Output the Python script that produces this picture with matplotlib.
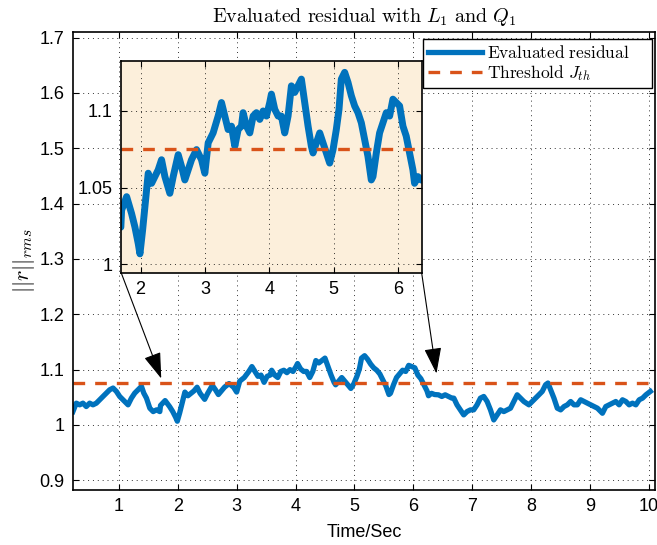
import matplotlib
matplotlib.use('Agg')
from matplotlib import pyplot as plt
from matplotlib.ticker import FixedLocator, FixedFormatter

plt.rcParams['font.family'] = ['Liberation Sans', 'DejaVu Sans']
plt.rcParams['mathtext.fontset'] = 'cm'

# residual (time in s, ||r||_rms)
t = [0.216, 0.273, 0.330, 0.386, 0.443, 0.500, 0.557, 0.614, 0.670, 0.727,
     0.784, 0.841, 0.898, 0.955, 1.011, 1.097, 1.153, 1.210, 1.267, 1.324,
     1.381, 1.420, 1.466, 1.523, 1.580, 1.636, 1.693,
     1.705, 1.783, 1.860, 1.912, 1.964, 1.990, 2.031, 2.093, 2.119, 2.171,
     2.223, 2.274, 2.326, 2.378, 2.455, 2.507, 2.585, 2.637, 2.688, 2.740,
     2.792, 2.870, 2.947, 2.999, 3.051, 3.128, 3.206, 3.258, 3.310, 3.361,
     3.413, 3.465, 3.517, 3.568, 3.594, 3.646, 3.698, 3.750, 3.801, 3.853,
     3.905, 3.957, 4.008, 4.034, 4.086, 4.138, 4.189, 4.241, 4.293, 4.345,
     4.396, 4.448, 4.500, 4.552, 4.604, 4.655, 4.681, 4.733, 4.785, 4.836,
     4.888, 4.940, 4.992, 5.043, 5.085, 5.121, 5.173, 5.225, 5.277, 5.328,
     5.380, 5.432, 5.484, 5.535, 5.587, 5.613, 5.665, 5.716, 5.768, 5.820,
     5.872, 5.923, 5.975, 6.027, 6.079, 6.130, 6.182, 6.234, 6.260, 6.311,
     6.363,
     6.429, 6.486, 6.543, 6.600, 6.657, 6.690, 6.744, 6.800, 6.858, 6.915,
     6.972, 7.028, 7.085, 7.142, 7.199, 7.256, 7.313, 7.369, 7.426, 7.483,
     7.540, 7.597, 7.653, 7.710, 7.767, 7.824, 7.881, 7.966, 8.023, 8.080,
     8.136, 8.193, 8.250, 8.290, 8.335, 8.392, 8.449, 8.506, 8.563, 8.619,
     8.676, 8.733, 8.790, 8.847, 8.903, 8.960, 9.017, 9.074, 9.131, 9.216,
     9.273, 9.330, 9.386, 9.443, 9.500, 9.557, 9.614, 9.670, 9.727, 9.784,
     9.841, 9.898, 9.955, 10.03]
r = [1.0242, 1.0394, 1.0364, 1.0394, 1.0333, 1.0394, 1.0364, 1.0394, 1.0455, 1.0515,
     1.0576, 1.0636, 1.0667, 1.0606, 1.0515, 1.0424, 1.0364, 1.0485, 1.0576, 1.0636,
     1.0697, 1.0576, 1.0485, 1.0303, 1.0242, 1.0273, 1.0242,
     1.0353, 1.0441, 1.0331, 1.0243, 1.0134, 1.0068, 1.0221, 1.0485, 1.0594, 1.0528,
     1.0572, 1.0616, 1.0682, 1.0572, 1.0463, 1.0572, 1.0715, 1.0638, 1.0550, 1.0616,
     1.0682, 1.0748, 1.0682, 1.0594, 1.0792, 1.0857, 1.0967, 1.1055, 1.0967, 1.0879,
     1.0901, 1.0770, 1.0879, 1.0901, 1.0989, 1.0901, 1.0857, 1.0967, 1.0989, 1.0945,
     1.1000, 1.0967, 1.1055, 1.1110, 1.1011, 1.0967, 1.0967, 1.0857, 1.0967, 1.1164,
     1.1121, 1.1164, 1.1208, 1.1055, 1.0901, 1.0770, 1.0726, 1.0792, 1.0857, 1.0792,
     1.0726, 1.0660, 1.0748, 1.0879, 1.1011, 1.1208, 1.1252, 1.1186, 1.1099, 1.1033,
     1.0989, 1.0923, 1.0814, 1.0704, 1.0550, 1.0572, 1.0726, 1.0857, 1.0923, 1.0989,
     1.0967, 1.1077, 1.1055, 1.1033, 1.0901, 1.0836, 1.0726, 1.0616, 1.0528, 1.0572,
     1.0550,
     1.0545, 1.0515, 1.0545, 1.0515, 1.0485, 1.0485, 1.0364, 1.0273, 1.0182, 1.0242,
     1.0273, 1.0273, 1.0364, 1.0485, 1.0515, 1.0424, 1.0273, 1.0091, 1.0182, 1.0273,
     1.0242, 1.0273, 1.0303, 1.0424, 1.0545, 1.0485, 1.0424, 1.0364, 1.0424, 1.0485,
     1.0545, 1.0606, 1.0727, 1.0758, 1.0636, 1.0485, 1.0303, 1.0273, 1.0333, 1.0364,
     1.0424, 1.0364, 1.0364, 1.0455, 1.0424, 1.0394, 1.0364, 1.0333, 1.0303, 1.0212,
     1.0333, 1.0364, 1.0394, 1.0424, 1.0364, 1.0455, 1.0424, 1.0364, 1.0394, 1.0364,
     1.0455, 1.0485, 1.0545, 1.0606]
threshold = 1.075

xticks = [1, 2, 3, 4, 5, 6, 7, 8, 9, 10]
yticks = [0.9, 1.0, 1.1, 1.2, 1.3, 1.4, 1.5, 1.6, 1.7]
ytick_labels = ['0.9', '1', '1.1', '1.2', '1.3', '1.4', '1.5', '1.6', '1.7']
inset_xticks = [2, 3, 4, 5, 6]
inset_yticks = [1.0, 1.05, 1.1]
inset_ytick_labels = ['1', '1.05', '1.1']

blue = '#0072BD'
orange = '#D95319'
grid_kw = dict(color='k', linestyle=(0, (1, 4)), linewidth=0.7, alpha=0.8)


def style_axes(ax, size):
    ax.tick_params(direction='in', top=True, right=True, length=4, width=0.8,
                   labelsize=size, pad=6)
    for s in ax.spines.values():
        s.set_linewidth(1.2)
    ax.grid(True, **grid_kw)


fig = plt.figure(figsize=(6.57, 5.45), dpi=100)
ax = fig.add_axes([0.111, 0.1009, 0.886, 0.8404])
ax.plot(t, r, color=blue, lw=3.8, label=r'$\mathrm{Evaluated\ residual}$',
        solid_joinstyle='round')
ax.axhline(threshold, color=orange, lw=2.4, dashes=(3.5, 3),
           label=r'$\mathrm{Threshold}\ J_{th}$')
ax.set_xlim(0.216, 10.11)
ax.set_ylim(0.8825, 1.71)
ax.xaxis.set_major_locator(FixedLocator(xticks))
ax.yaxis.set_major_locator(FixedLocator(yticks))
ax.yaxis.set_major_formatter(FixedFormatter(ytick_labels))
style_axes(ax, 13)
ax.set_xlabel('Time/Sec', fontsize=13, labelpad=6)
ax.set_ylabel(r'$||r||_{rms}$', fontsize=16, labelpad=2)
ax.set_title(r'$\mathrm{Evaluated\ residual\ with\ }L_1\mathrm{\ and\ }Q_1$',
             fontsize=14.5, pad=7)

leg = ax.legend(loc='upper left', bbox_to_anchor=(0.6014, 0.985, 0.3935, 0.0),
                mode='expand', fontsize=12.5, handlelength=3.1,
                fancybox=False, framealpha=1, edgecolor='k', borderpad=0.3,
                labelspacing=0.1, handletextpad=0.3, borderaxespad=0)
leg.get_frame().set_linewidth(1.0)

axins = fig.add_axes([0.1846, 0.4991, 0.4572, 0.3895])
axins.set_facecolor('#fcefdb')
axins.plot(t, r, color=blue, lw=5, solid_joinstyle='round')
axins.axhline(threshold, color=orange, lw=2.4, dashes=(3.5, 3))
axins.set_xlim(1.70, 6.37)
axins.set_ylim(0.9943, 1.1328)
axins.xaxis.set_major_locator(FixedLocator(inset_xticks))
axins.yaxis.set_major_locator(FixedLocator(inset_yticks))
axins.yaxis.set_major_formatter(FixedFormatter(inset_ytick_labels))
style_axes(axins, 13)

# arrows from the inset corners down to the zoomed region
for corner, target in [((0, 0), (1.717, 1.084)), ((1, 0), (6.395, 1.093))]:
    ax.annotate('', xy=target, xycoords='data',
                xytext=corner, textcoords=axins.transAxes,
                arrowprops=dict(arrowstyle='-|>,head_length=0.9,head_width=0.3',
                                mutation_scale=18, color='k', lw=0.8,
                                shrinkA=0, shrinkB=0))

fig.savefig('out.png', dpi=100)
